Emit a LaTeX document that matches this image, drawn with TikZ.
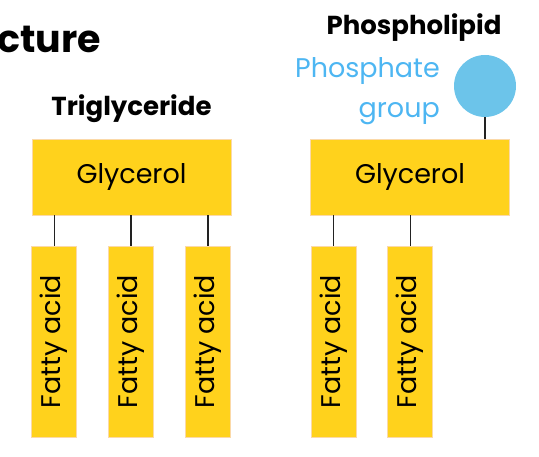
\documentclass[tikz,border=0pt]{standalone}
\usepackage{fontspec}
\setmainfont{Poppins}
\definecolor{gyel}{HTML}{FFD21C}
\definecolor{gedge}{HTML}{FBD9A8}
\definecolor{pblue}{HTML}{6CC4EA}
\definecolor{ptext}{HTML}{4DB6F2}
\definecolor{lnk}{HTML}{222222}
\begin{document}
\begin{tikzpicture}[x=1pt,y=-1pt,
  glybox/.style={rectangle,fill=gyel,draw=gedge,line width=0.6pt,inner sep=0pt,minimum width=199pt,minimum height=76pt,font=\fontsize{27}{30}\selectfont},
  fabox/.style={rectangle,fill=gyel,draw=gedge,line width=0.6pt,inner sep=0pt,minimum width=45pt,minimum height=191pt,font=\fontsize{27}{30}\selectfont},
  link/.style={draw=lnk,line width=1.4pt},
  title/.style={font=\fontsize{26}{30}\selectfont\bfseries,inner sep=0pt},
  plabel/.style={anchor=base east,text=ptext,inner sep=0pt,font=\fontsize{27}{30}\selectfont}]
\useasboundingbox (0,0) rectangle (539,457);
\node[anchor=base east,inner sep=0pt,font=\fontsize{38}{42}\selectfont\bfseries] (head) at (101,53) {cture};
\node[title] (tgt) at (131.5,109) {Triglyceride};
\node[title] (plt) at (414,28) {Phospholipid};
% Triglyceride
\node[glybox] (tg) at (131.5,177) {Glycerol};
\node[fabox] (fa1) at (54.2,341.5) {\rotatebox{90}{Fatty acid}};
\node[fabox] (fa2) at (130.8,341.5) {\rotatebox{90}{Fatty acid}};
\node[fabox] (fa3) at (208,341.5) {\rotatebox{90}{Fatty acid}};
% Phospholipid
\node[glybox] (pg) at (410,177) {Glycerol};
\node[fabox] (fa4) at (333.4,341.5) {\rotatebox{90}{Fatty acid}};
\node[fabox] (fa5) at (410.2,341.5) {\rotatebox{90}{Fatty acid}};
\node[circle,fill=pblue,inner sep=0pt,minimum size=62pt] (ph) at (485,86) {};
\node[plabel] (phl1) at (440,78) {Phosphate};
\node[plabel] (phl2) at (440,118) {group};
% links
\draw[link] (ph.south) -- (ph.south |- pg.north);
\foreach \f in {fa1,fa2,fa3}{\draw[link] (tg.south -| \f.north) -- (\f.north);}
\foreach \f in {fa4,fa5}{\draw[link] (pg.south -| \f.north) -- (\f.north);}
\end{tikzpicture}
\end{document}
